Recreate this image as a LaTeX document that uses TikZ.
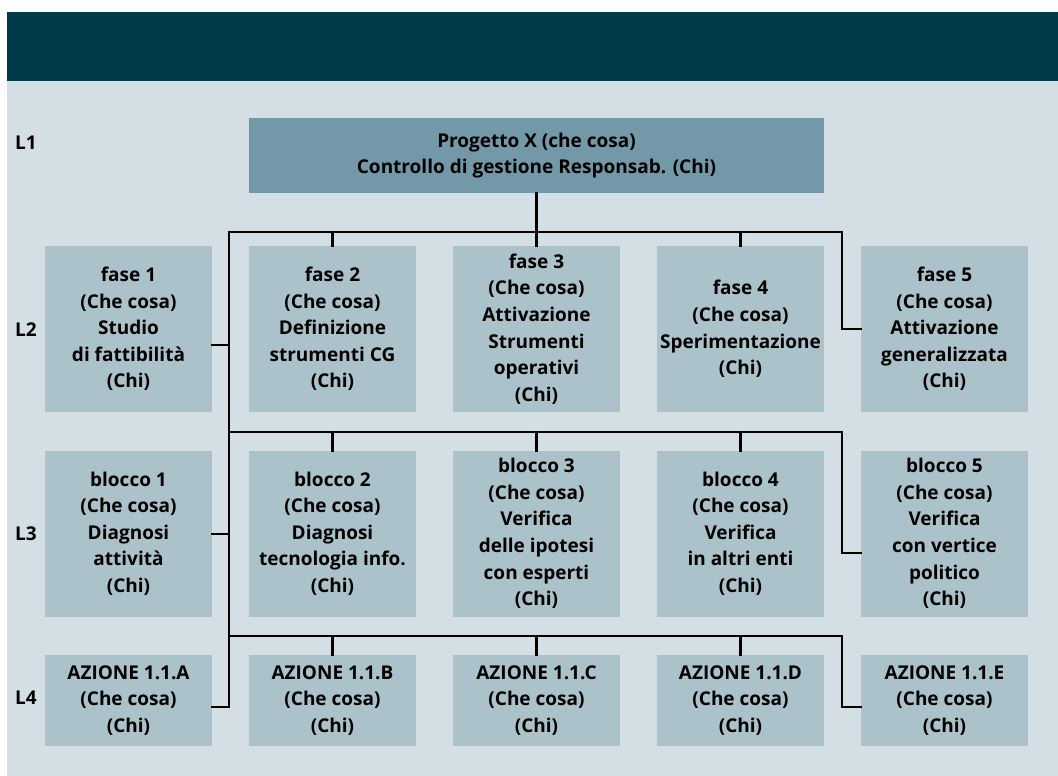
\documentclass[tikz,border=0pt]{standalone}
\usepackage{fontspec}
\setmainfont{Open Sans}
\definecolor{banner}{HTML}{013A48}
\definecolor{paper}{HTML}{D4DFE5}
\definecolor{topbox}{HTML}{7399A8}
\definecolor{cellbox}{HTML}{ABC2CA}
\begin{document}
\begin{tikzpicture}[x=1pt,y=-1pt,
  txt/.style={font=\bfseries\fontsize{19}{26.6}\selectfont, align=center, inner sep=0pt},
  cell/.style={txt, fill=cellbox, minimum width=167pt, minimum height=166pt},
  actbox/.style={txt, fill=cellbox, minimum width=167pt, minimum height=91pt},
  lvl/.style={txt},
  wire/.style={line width=2.6pt, line join=miter, line cap=rect}]
\useasboundingbox (0,0) rectangle (1058,776);
% background panels
\fill[paper] (7,81) rectangle (1058,776);
\fill[banner] (7,12) rectangle (1058,81);
% level labels
\node[lvl] (l1) at (26,143) {L1};
\node[lvl] (l2) at (26,330) {L2};
\node[lvl] (l3) at (26,534) {L3};
\node[lvl] (l4) at (26,698) {L4};
% top project box
\node[txt, fill=topbox, minimum width=575pt, minimum height=75pt] (p) at (536.5,155.5)
  {Progetto X (che cosa)\\Controllo di gestione Responsab. (Chi)};
% phases
\node[cell] (f1) at (128.5,329) {fase 1\\(Che cosa)\\Studio\\di fattibilità\\(Chi)};
\node[cell] (f2) at (332.5,329) {fase 2\\(Che cosa)\\Definizione\\strumenti CG\\(Chi)};
\node[cell] (f3) at (536.5,329) {fase 3\\(Che cosa)\\Attivazione\\Strumenti\\operativi\\(Chi)};
\node[cell] (f4) at (740.5,329) {fase 4\\(Che cosa)\\Sperimentazione\\(Chi)};
\node[cell] (f5) at (944.5,329) {fase 5\\(Che cosa)\\Attivazione\\generalizzata\\(Chi)};
% blocks
\node[cell] (b1) at (128.5,533.5) {blocco 1\\(Che cosa)\\Diagnosi\\attività\\(Chi)};
\node[cell] (b2) at (332.5,533.5) {blocco 2\\(Che cosa)\\Diagnosi\\tecnologia info.\\(Chi)};
\node[cell] (b3) at (536.5,533.5) {blocco 3\\(Che cosa)\\Verifica\\delle ipotesi\\con esperti\\(Chi)};
\node[cell] (b4) at (740.5,533.5) {blocco 4\\(Che cosa)\\Verifica\\in altri enti\\(Chi)};
\node[cell] (b5) at (944.5,533.5) {blocco 5\\(Che cosa)\\Verifica\\con vertice\\politico\\(Chi)};
% actions
\node[actbox] (a1) at (128.5,700.5) {AZIONE 1.1.A\\(Che cosa)\\(Chi)};
\node[actbox] (a2) at (332.5,700.5) {AZIONE 1.1.B\\(Che cosa)\\(Chi)};
\node[actbox] (a3) at (536.5,700.5) {AZIONE 1.1.C\\(Che cosa)\\(Chi)};
\node[actbox] (a4) at (740.5,700.5) {AZIONE 1.1.D\\(Che cosa)\\(Chi)};
\node[actbox] (a5) at (944.5,700.5) {AZIONE 1.1.E\\(Che cosa)\\(Chi)};
% bus coordinates
\coordinate (trunkTop) at (229,232);
\coordinate (trunkBot) at (229,707);
\coordinate (busR2) at (842,232);
\coordinate (bus3) at (229,432);
\coordinate (busR3) at (842,432);
\coordinate (bus4) at (229,636);
\coordinate (busR4) at (842,636);
\coordinate (j1) at (229,345);
\coordinate (j3) at (229,534);
\coordinate (k5) at (842,553);
\coordinate (k4) at (842,707);
% connectors
\draw[wire] (p.south) -- (p.south |- trunkTop);
\draw[wire] (a1.east |- trunkBot) -- (trunkBot) -- (trunkTop) -- (busR2) |- (f5.west);
\draw[wire] (f1.east |- j1) -- (j1);
\foreach \n in {f2,f3,f4} \draw[wire] (\n.north) -- (\n.north |- trunkTop);
\draw[wire] (bus3) -- (busR3) -- (k5) -- (b5.west |- k5);
\draw[wire] (b1.east |- j3) -- (j3);
\foreach \n in {b2,b3,b4} \draw[wire] (\n.north) -- (\n.north |- bus3);
\draw[wire] (bus4) -- (busR4) -- (k4) -- (a5.west |- k4);
\foreach \n in {a2,a3,a4} \draw[wire] (\n.north) -- (\n.north |- bus4);
\end{tikzpicture}
\end{document}
